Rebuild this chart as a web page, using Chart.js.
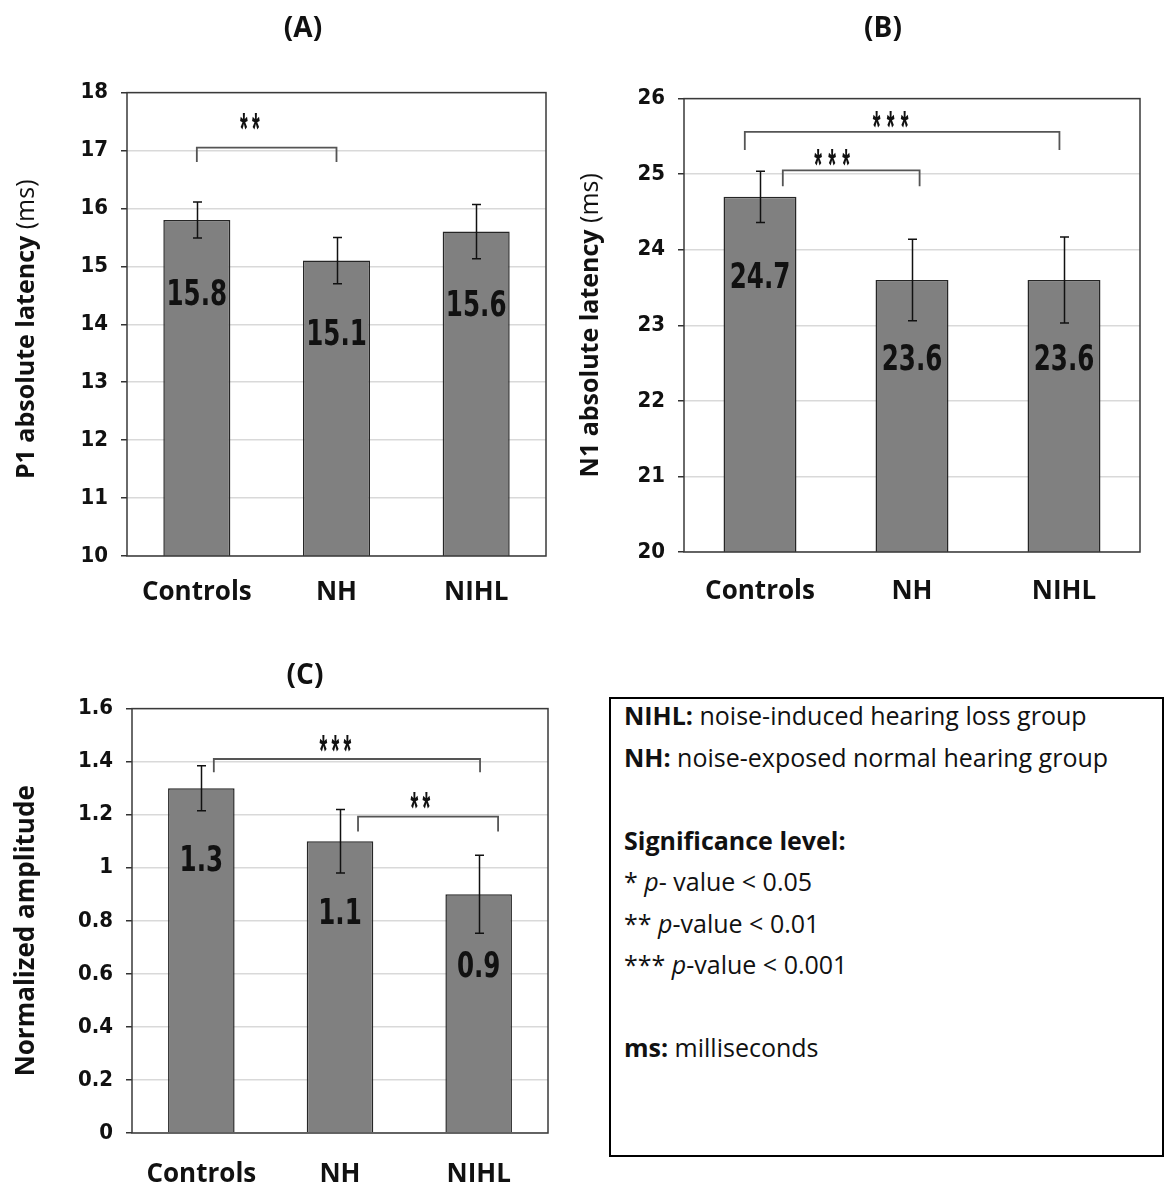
<!DOCTYPE html>
<html>
<head>
<meta charset="utf-8">
<title>P1 / N1 latency and normalized amplitude</title>
<script src="https://cdn.jsdelivr.net/npm/chart.js@4.4.1/dist/chart.umd.min.js"></script>
<style>
  body { margin: 0; background: #fff; width: 1164px; height: 1187px; position: relative; overflow: hidden; }
  .panel { position: absolute; }
  #notes {
    position: absolute; left: 609px; top: 697px; width: 555px; height: 460px;
    box-sizing: border-box; border: 2px solid #000; padding: 0 0 0 13px;
    font-family: "Open Sans", sans-serif; font-size: 25px; color: #111;
  }
  #notes div { height: 41.5px; line-height: 41.5px; white-space: nowrap; position: relative; top: -4px; }
</style>
</head>
<body>
<div class="panel" style="left:0;top:0"><canvas id="chartA" width="580" height="620"></canvas></div>
<div class="panel" style="left:570px;top:0"><canvas id="chartB" width="594" height="620"></canvas></div>
<div class="panel" style="left:0;top:640px"><canvas id="chartC" width="580" height="547"></canvas></div>

<div id="notes">
  <div><b>NIHL:</b> noise-induced hearing loss group</div>
  <div><b>NH:</b> noise-exposed normal hearing group</div>
  <div>&nbsp;</div>
  <div><b>Significance level:</b></div>
  <div>* <i>p</i>- value &lt; 0.05</div>
  <div>** <i>p</i>-value &lt; 0.01</div>
  <div>*** <i>p</i>-value &lt; 0.001</div>
  <div>&nbsp;</div>
  <div><b>ms:</b> milliseconds</div>
</div>

<script>
// groups
const groups = ['Controls', 'NH', 'NIHL'];

// (A) P1 absolute latency
const p1Mean = [15.8, 15.1, 15.6];
const p1Err = [0.31, 0.4, 0.47];
const p1Ticks = [10, 11, 12, 13, 14, 15, 16, 17, 18];
const p1Sig = [
  { from: 0, to: 1, y: 17.05, tip: 16.8, at: 0.38, starY: 17.5, stars: '**' }
];

// (B) N1 absolute latency
const n1Mean = [24.7, 23.6, 23.6];
const n1Err = [0.34, 0.54, 0.57];
const n1Ticks = [20, 21, 22, 23, 24, 25, 26];
const n1Sig = [
  { from: -0.1, to: 1.97, y: 25.56, tip: 25.32, at: 0.86, starY: 25.73, stars: '***' },
  { from: 0.15, to: 1.05, y: 25.05, tip: 24.84, at: 0.475, starY: 25.22, stars: '***' }
];

// (C) normalized amplitude
const ampMean = [1.3, 1.1, 0.9];
const ampErr = [0.085, 0.12, 0.147];
const ampTicks = [0, 0.2, 0.4, 0.6, 0.8, 1, 1.2, 1.4, 1.6];
const ampSig = [
  { from: 0.09, to: 2.01, y: 1.41, tip: 1.36, at: 0.967, starY: 1.47, stars: '***' },
  { from: 1.13, to: 2.14, y: 1.193, tip: 1.137, at: 1.58, starY: 1.254, stars: '**' }
];

const NARROW = '"Liberation Sans Narrow", "DejaVu Sans Condensed", sans-serif';

// text centred on (x, y) using the glyph box
function centerText(ctx, txt, x, y, sx) {
  const m = ctx.measureText(txt);
  const base = y + (m.actualBoundingBoxAscent - m.actualBoundingBoxDescent) / 2;
  ctx.save();
  ctx.translate(x, base);
  ctx.scale(sx || 1, 1);
  ctx.textAlign = 'center';
  ctx.textBaseline = 'alphabetic';
  ctx.fillText(txt, 0, 0);
  ctx.restore();
}

// frame, error bars, value labels, brackets, y title
const decor = {
  id: 'decor',
  afterDatasetsDraw(chart, args, o) {
    const { ctx, chartArea: a, scales: { x, y } } = chart;
    const vals = chart.data.datasets[0].data;
    ctx.save();

    ctx.strokeStyle = '#3a3a3a';
    ctx.lineWidth = 1.5;
    ctx.strokeRect(a.left, a.top, a.width, a.height);

    // error bars
    ctx.strokeStyle = '#111';
    ctx.lineWidth = 1.5;
    o.err.forEach((e, i) => {
      const px = Math.round(x.getPixelForValue(i)) + 0.5;
      const t = y.getPixelForValue(vals[i] + e);
      const b = y.getPixelForValue(vals[i] - e);
      ctx.beginPath();
      ctx.moveTo(px, t); ctx.lineTo(px, b);
      ctx.moveTo(px - 4.5, t); ctx.lineTo(px + 4.5, t);
      ctx.moveTo(px - 4.5, b); ctx.lineTo(px + 4.5, b);
      ctx.stroke();
    });

    // value labels inside bars
    ctx.fillStyle = '#111';
    ctx.font = 'bold 35px ' + NARROW;
    vals.forEach((v, i) => {
      centerText(ctx, v.toFixed(1), x.getPixelForValue(i), y.getPixelForValue(v) + o.labelDrop, 0.78);
    });

    // significance brackets
    ctx.strokeStyle = '#555';
    ctx.lineWidth = 1.8;
    ctx.font = 'bold 44px "Liberation Sans", sans-serif';
    o.sig.forEach(s => {
      const x0 = x.getPixelForValue(s.from), x1 = x.getPixelForValue(s.to);
      const yy = y.getPixelForValue(s.y), yt = y.getPixelForValue(s.tip);
      ctx.beginPath();
      ctx.moveTo(x0, yt); ctx.lineTo(x0, yy); ctx.lineTo(x1, yy); ctx.lineTo(x1, yt);
      ctx.stroke();
      const cx = x.getPixelForValue(s.at), cy = y.getPixelForValue(s.starY);
      const n = s.stars.length;
      for (let k = 0; k < n; k++) {
        centerText(ctx, '*', cx + (k - (n - 1) / 2) * o.starGap, cy, 0.45);
      }
    });
    ctx.restore();
  },
  afterDraw(chart, args, o) {
    const { ctx, chartArea: a } = chart;
    ctx.save();
    ctx.translate(o.yTitleX, (a.top + a.bottom) / 2 + o.yTitleShift);
    ctx.rotate(-Math.PI / 2);
    ctx.fillStyle = '#111';
    ctx.textBaseline = 'middle';
    const fonts = o.yTitle.map(p => (p.bold ? 'bold ' : '') + o.yTitleSize + 'px "Open Sans", sans-serif');
    let total = 0;
    o.yTitle.forEach((p, i) => { ctx.font = fonts[i]; total += ctx.measureText(p.text).width; });
    let pos = -total / 2;
    o.yTitle.forEach((p, i) => {
      ctx.font = fonts[i];
      ctx.fillText(p.text, pos, 0);
      pos += ctx.measureText(p.text).width;
    });
    ctx.restore();
  }
};

function makeChart(id, c) {
  return new Chart(document.getElementById(id), {
    type: 'bar',
    data: {
      labels: groups,
      datasets: [{
        data: c.mean,
        backgroundColor: '#808080',
        borderColor: '#262626',
        borderWidth: 1.5,
        barPercentage: 0.48,
        categoryPercentage: 1
      }]
    },
    options: {
      responsive: false,
      animation: false,
      layout: { padding: c.pad },
      plugins: {
        legend: { display: false },
        tooltip: { enabled: false },
        title: {
          display: true,
          text: c.title,
          color: '#111',
          font: { family: '"Open Sans", sans-serif', weight: 'bold', size: 28 },
          padding: c.titlePad
        },
        decor: {
          err: c.err, sig: c.sig, labelDrop: c.labelDrop, starGap: c.starGap,
          yTitle: c.yTitle, yTitleX: c.yTitleX, yTitleShift: c.yTitleShift, yTitleSize: c.yTitleSize
        }
      },
      scales: {
        x: {
          grid: { display: false },
          border: { display: false },
          ticks: { color: '#111', padding: c.xPad, font: { family: '"Open Sans", sans-serif', weight: 'bold', size: 26 } },
          afterFit: s => { s.height = 50; }
        },
        y: {
          min: c.ticks[0],
          max: c.ticks[c.ticks.length - 1],
          grid: { color: '#d9d9d9', lineWidth: 1.5, tickColor: '#333', tickLength: 6 },
          border: { display: false },
          ticks: {
            color: '#111', padding: 13,
            font: { family: NARROW, weight: 'bold', size: 22 },
            callback: v => String(+v.toFixed(2))
          },
          afterBuildTicks: s => { s.ticks = c.ticks.map(v => ({ value: v })); },
          afterFit: s => { s.width = c.yWidth; }
        }
      }
    },
    plugins: [decor]
  });
}

makeChart('chartA', {
  title: '(A)', mean: p1Mean, err: p1Err, ticks: p1Ticks, sig: p1Sig,
  pad: { left: 60, right: 34, top: 0, bottom: 14 },
  titlePad: { top: 12, bottom: 47 }, yWidth: 67, xPad: 13,
  labelDrop: 72, starGap: 12,
  yTitle: [{ text: 'P1 absolute latency ', bold: true }, { text: '(ms)', bold: false }],
  yTitleX: 27, yTitleShift: 5, yTitleSize: 25
});

makeChart('chartB', {
  title: '(B)', mean: n1Mean, err: n1Err, ticks: n1Ticks, sig: n1Sig,
  pad: { left: 56, right: 24, top: 0, bottom: 18 },
  titlePad: { top: 12, bottom: 53 }, yWidth: 58, xPad: 16,
  labelDrop: 78, starGap: 14,
  yTitle: [{ text: 'N1 absolute latency ', bold: true }, { text: '(ms)', bold: false }],
  yTitleX: 21, yTitleShift: 0, yTitleSize: 25
});

makeChart('chartC', {
  title: '(C)', mean: ampMean, err: ampErr, ticks: ampTicks, sig: ampSig,
  pad: { left: 62, right: 32, top: 0, bottom: 4 },
  titlePad: { top: 19, bottom: 16 }, yWidth: 70, xPad: 18,
  labelDrop: 70, starGap: 12,
  yTitle: [{ text: 'Normalized amplitude', bold: true }],
  yTitleX: 27, yTitleShift: 10, yTitleSize: 26
});
</script>
</body>
</html>
